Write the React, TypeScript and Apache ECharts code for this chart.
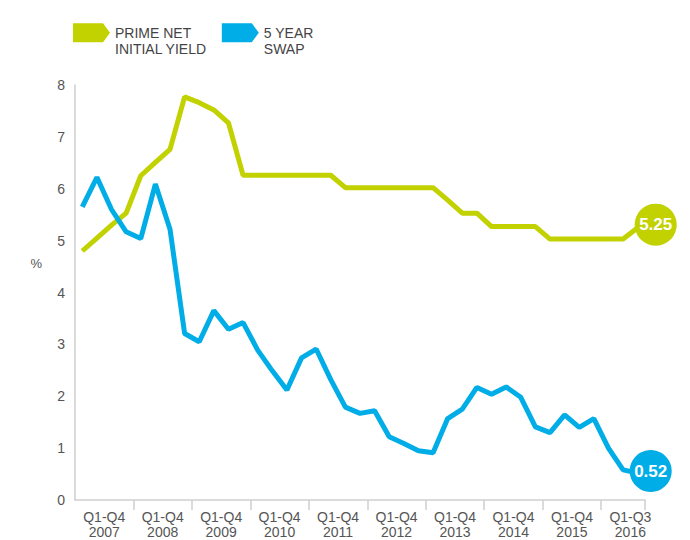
import React, { useEffect, useRef } from "react";
import * as echarts from "echarts";

const years: string[] = ["2007", "2008", "2009", "2010", "2011", "2012", "2013", "2014", "2015", "2016"];
const quartersPerYear: number[] = [4, 4, 4, 4, 4, 4, 4, 4, 4, 3];
const periodLabels: string[] = [
  "Q1-Q4\n2007", "Q1-Q4\n2008", "Q1-Q4\n2009", "Q1-Q4\n2010", "Q1-Q4\n2011",
  "Q1-Q4\n2012", "Q1-Q4\n2013", "Q1-Q4\n2014", "Q1-Q4\n2015", "Q1-Q3\n2016",
];
const yTicks: number[] = [0, 1, 2, 3, 4, 5, 6, 7, 8];

const primeYield: number[] = [
  4.8, 5.05, 5.3, 5.53,
  6.25, 6.51, 6.76, 7.77,
  7.66, 7.52, 7.27, 6.26,
  6.26, 6.26, 6.26, 6.26,
  6.26, 6.26, 6.02, 6.02,
  6.02, 6.02, 6.02, 6.02,
  6.02, 5.78, 5.53, 5.53,
  5.27, 5.27, 5.27, 5.27,
  5.03, 5.03, 5.03, 5.03,
  5.03, 5.03, 5.25,
];
const swap5y: number[] = [
  5.65, 6.22, 5.6, 5.17,
  5.04, 6.09, 5.22, 3.21,
  3.05, 3.65, 3.29, 3.42,
  2.89, 2.49, 2.12, 2.74,
  2.91, 2.32, 1.79, 1.67,
  1.72, 1.22, 1.09, 0.95,
  0.91, 1.57, 1.75, 2.17,
  2.04, 2.18, 1.98, 1.41,
  1.3, 1.64, 1.4, 1.57,
  1.0, 0.58, 0.52,
];

const seriesNames = ["PRIME NET INITIAL YIELD", "5 YEAR SWAP"];
const legendLabels: Record<string, string> = {
  "PRIME NET INITIAL YIELD": "PRIME NET\nINITIAL YIELD",
  "5 YEAR SWAP": "5 YEAR\nSWAP",
};

const GREEN = "#c2d100";
const BLUE = "#00ade6";
const FONT = "'Liberation Sans', Arial, sans-serif";

const quarters: string[] = [];
years.forEach((y, yi) => {
  for (let q = 1; q <= quartersPerYear[yi]; q++) quarters.push(`${y} Q${q}`);
});

export default function App() {
  const ref = useRef<HTMLDivElement>(null);
  useEffect(() => {
    if (!ref.current) return;
    const chart = echarts.init(ref.current, null, { renderer: "svg" });
    const last = quarters.length - 1;
    const mk = (color: string, val: number, off: number[]) => ({
      symbol: "circle",
      symbolSize: 42,
      symbolOffset: off,
      silent: true,
      itemStyle: { color },
      label: {
        show: true,
        position: "inside",
        formatter: () => val.toFixed(2),
        color: "#fff",
        fontWeight: "bold",
        fontSize: 17,
        fontFamily: "'Liberation Sans Narrow', 'Liberation Sans', Arial, sans-serif",
      },
      data: [{ coord: [last, val] }],
    });
    chart.setOption({
      animation: false,
      textStyle: { fontFamily: FONT },
      grid: { left: 75, right: 45, top: 85, bottom: 40, containLabel: false },
      legend: {
        left: 73,
        top: 8,
        padding: 0,
        itemWidth: 37,
        itemHeight: 19,
        itemGap: 15,
        icon: "path://M0,0L30,0L37,9.5L30,19L0,19Z",
        itemStyle: { borderWidth: 0 },
        textStyle: {
          fontSize: 14,
          color: "#444",
          lineHeight: 16.5,
          fontFamily: FONT,
        },
        formatter: (name: string) => " \n" + (legendLabels[name] || name),
        data: seriesNames,
      },
      xAxis: [
        {
          type: "category",
          data: quarters,
          boundaryGap: true,
          axisLine: { show: true, lineStyle: { color: "#cfcfcf", width: 1.5 } },
          axisTick: {
            show: true,
            length: 10,
            interval: (idx: number) => idx > 0 && idx % 4 === 0,
            lineStyle: { color: "#cfcfcf", width: 1.5 },
          },
          axisLabel: { show: false },
          splitLine: { show: false },
        },
        {
          type: "value",
          min: 0,
          max: quarters.length,
          interval: 2,
          position: "bottom",
          axisLine: { show: false },
          axisTick: { show: false },
          splitLine: { show: false },
          axisLabel: {
            show: true,
            margin: 9,
            fontSize: 14,
            lineHeight: 15.5,
            color: "#555",
            fontFamily: FONT,
            formatter: (v: number) => {
              if (v % 4 !== 2) return "";
              const i = (v - 2) / 4;
              return periodLabels[i] || "";
            },
          },
        },
      ],
      yAxis: {
        type: "value",
        min: 0,
        max: 8,
        interval: 1,
        name: "%\n \n \n \n ",
        nameLocation: "middle",
        nameRotate: 0,
        nameGap: 33,
        nameTextStyle: { color: "#555", fontSize: 13, lineHeight: 14.5, fontFamily: FONT },
        axisLine: { show: true, lineStyle: { color: "#cfcfcf", width: 1.5 } },
        axisTick: { show: false },
        splitLine: { show: false },
        axisLabel: {
          color: "#555",
          fontSize: 14,
          margin: 10,
          fontFamily: FONT,
          formatter: (v: number) => (yTicks.includes(v) ? String(v) : ""),
        },
      },
      series: [
        {
          name: seriesNames[0],
          type: "line",
          data: primeYield,
          symbol: "none",
          itemStyle: { color: GREEN },
          lineStyle: { color: GREEN, width: 5 },
          markPoint: mk(GREEN, 5.25, [18, -3]),
        },
        {
          name: seriesNames[1],
          type: "line",
          data: swap5y,
          symbol: "none",
          itemStyle: { color: BLUE },
          lineStyle: { color: BLUE, width: 5 },
          markPoint: mk(BLUE, 0.52, [13, -2]),
        },
      ],
    });
    return () => chart.dispose();
  }, []);
  return (
    <div
      ref={ref}
      style={{ position: "absolute", left: 0, top: 0, width: 690, height: 540 }}
    />
  );
}
